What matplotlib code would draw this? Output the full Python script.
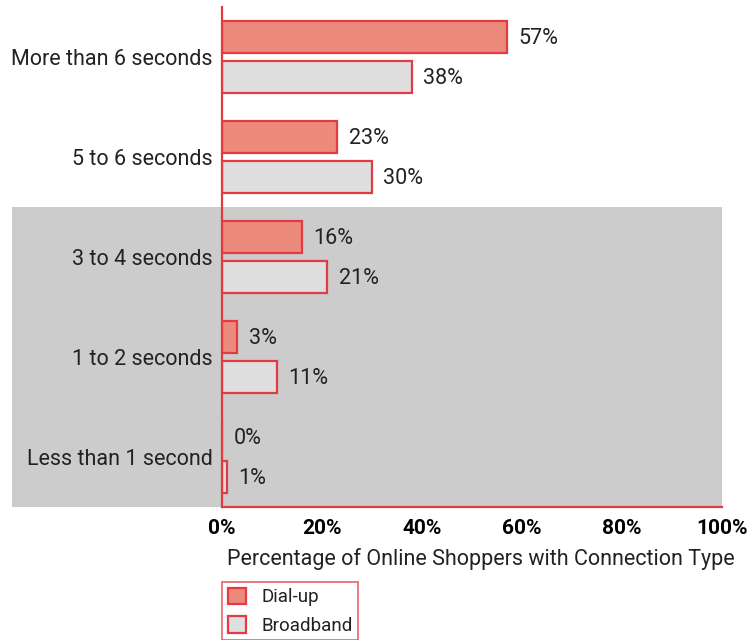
import matplotlib
matplotlib.use("Agg")
import matplotlib.pyplot as plt
from matplotlib.patches import Rectangle, Patch
from matplotlib.transforms import offset_copy
import numpy as np

categories = ["More than 6 seconds", "5 to 6 seconds", "3 to 4 seconds",
              "1 to 2 seconds", "Less than 1 second"]
dialup = [57, 23, 16, 3, 0]
broadband = [38, 30, 21, 11, 1]
xticks = [0, 20, 40, 60, 80, 100]
xticklabels = ["0%", "20%", "40%", "60%", "80%", "100%"]

RED = "#E23B44"
DIAL = "#EC8B7B"
BROAD = "#DFDFDF"
SHADE = "#CCCCCC"
TXT = "#222222"
FS = 15.5

plt.rcParams['font.family'] = ['Roboto', 'DejaVu Sans']

fig = plt.figure(figsize=(7.54, 6.4), dpi=100)
ax = fig.add_axes([222/754, 1-507/640, 500/754, 500/640])
ax.set_zorder(2)

y = np.arange(len(categories))
h = 0.32
off = 0.2

# gray shaded region covering the lower three categories (extends into label area)
shade = Rectangle((12/754, 1-507/640), (722-12)/754, 300/640,
                  transform=fig.transFigure, facecolor=SHADE, edgecolor='none', zorder=-5)
fig.patches.append(shade)
ax.set_facecolor('none')

ax.barh(y - off, dialup, height=h, color=DIAL, edgecolor=RED, linewidth=1.6, zorder=3)
ax.barh(y + off, broadband, height=h, color=BROAD, edgecolor=RED, linewidth=1.6, zorder=3)

tr = offset_copy(ax.transData, fig=fig, x=0, y=-2, units='dots')
for yi, v in zip(y - off, dialup):
    ax.text(v + 2.3, yi, f"{v}%", va='center', ha='left', fontsize=FS, color=TXT, transform=tr)
for yi, v in zip(y + off, broadband):
    ax.text(v + 2.3, yi, f"{v}%", va='center', ha='left', fontsize=FS, color=TXT, transform=tr)

ax.set_ylim(len(categories) - 0.5, -0.5)
ax.set_xlim(0, 100)
ax.set_yticks(y)
ax.set_yticklabels(categories, fontsize=FS, color=TXT)
ax.set_xticks(xticks)
ax.set_xticklabels(xticklabels, fontsize=15, fontweight='bold', color='black')
ax.tick_params(axis='both', length=0)
ax.tick_params(axis='y', pad=6.5)
ax.tick_params(axis='x', pad=9)

for s in ['top', 'right']:
    ax.spines[s].set_visible(False)
ax.spines['left'].set_color(RED)
ax.spines['bottom'].set_color(RED)
ax.spines['left'].set_linewidth(1.6)
ax.spines['bottom'].set_linewidth(1.6)
ax.spines['left'].set_zorder(4)

ax.set_xlabel("Percentage of Online Shoppers with Connection Type",
              fontsize=FS, color=TXT, labelpad=7)
ax.xaxis.label.set_x(0.518)

handles = [Patch(facecolor=DIAL, edgecolor=RED, linewidth=1.6, label="Dial-up"),
           Patch(facecolor=BROAD, edgecolor=RED, linewidth=1.6, label="Broadband")]
leg = fig.legend(handles=handles, loc='upper left',
                 bbox_to_anchor=(222/754, 1-582/640), fontsize=13.5,
                 frameon=True, fancybox=False, borderaxespad=0,
                 handlelength=1.0, handleheight=1.0, handletextpad=0.8,
                 labelspacing=0.5, borderpad=0.3)
leg.get_frame().set_edgecolor(RED)
leg.get_frame().set_linewidth(1.2)
for t in leg.get_texts():
    t.set_color(TXT)

fig.savefig("out.png", dpi=100)
